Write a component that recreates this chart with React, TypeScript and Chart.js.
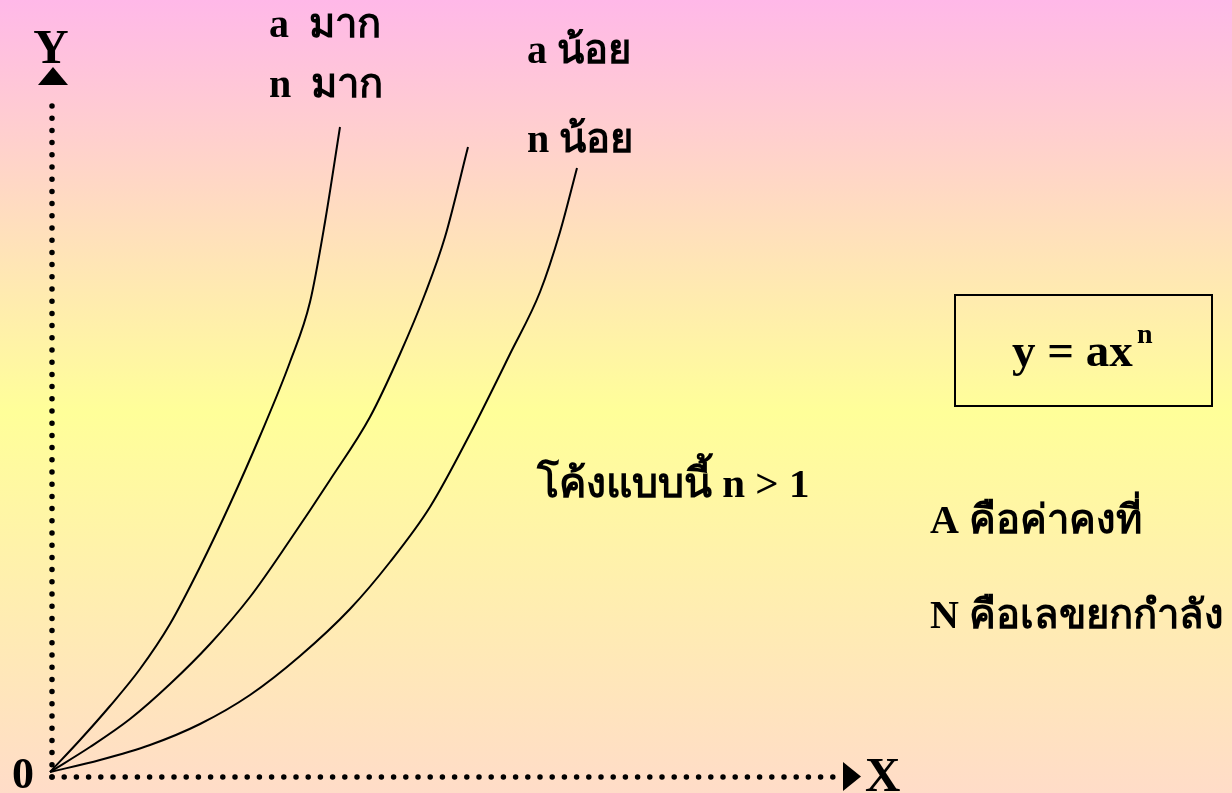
import React, { useEffect, useRef } from "react";
import { Chart, registerables } from "chart.js";

Chart.register(...registerables);

// Curve samples (x to the right of the origin, y above the origin, chart units)
const curveBigX = [0, 30, 60, 90, 120, 150, 180, 210, 240, 260, 275, 290];
const curveBigY = [0, 32, 66, 103, 148, 205, 268, 336, 410, 470, 550, 645];

const curveMidX = [0, 40, 80, 120, 160, 200, 240, 280, 320, 350, 375, 395, 418];
const curveMidY = [0, 25, 53, 88, 128, 175, 232, 292, 355, 418, 478, 535, 625];

const curveSmallX = [0, 50, 100, 150, 200, 250, 300, 340, 380, 420, 460, 490, 510, 527];
const curveSmallY = [0, 12, 27, 48, 77, 116, 163, 210, 265, 338, 418, 480, 540, 604];

// Axis extents
const xAxisX = [2, 785];
const xAxisY = [-5, -5];
const yAxisX = [2, 2];
const yAxisY = [-5, 678];
const upArrow = { x: 3, y: 696 };
const rightArrow = { x: 802, y: -4.5 };

const labels = {
  y: "Y",
  x: "X",
  zero: "0",
  aBig: "a  มาก",
  nBig: "n  มาก",
  aSmall: "a น้อย",
  nSmall: "n น้อย",
  shape: "โค้งแบบนี้ n > 1",
  aDef: "A คือค่าคงที่",
  nDef: "N คือเลขยกกำลัง",
  formula: "y = ax",
  sup: "n",
};

const zip = (xs: number[], ys: number[]) => xs.map((x, i) => ({ x, y: ys[i] }));

function makeTriangle(w: number, h: number, dir: "up" | "right") {
  const c = document.createElement("canvas");
  c.width = dir === "up" ? w : h;
  c.height = dir === "up" ? h : w;
  const g = c.getContext("2d")!;
  g.fillStyle = "#000";
  g.beginPath();
  if (dir === "up") {
    g.moveTo(w / 2, 0);
    g.lineTo(w, h);
    g.lineTo(0, h);
  } else {
    g.moveTo(0, 0);
    g.lineTo(h, w / 2);
    g.lineTo(0, w);
  }
  g.closePath();
  g.fill();
  return c;
}

const FONT = '"Liberation Serif", "Times New Roman", serif';

export default function App() {
  const ref = useRef<HTMLCanvasElement | null>(null);

  useEffect(() => {
    document.body.style.margin = "0";
    const canvas = ref.current!;
    const bgPlugin = {
      id: "bg",
      beforeDraw(chart: any) {
        const { ctx, width, height } = chart;
        const grad = ctx.createLinearGradient(0, 0, 0, height);
        grad.addColorStop(0, "#FFB8E8");
        grad.addColorStop(0.52, "#FFFF99");
        grad.addColorStop(1, "#FFDCC8");
        ctx.save();
        ctx.fillStyle = grad;
        ctx.fillRect(0, 0, width, height);
        ctx.restore();
      },
    };
    const textPlugin = {
      id: "texts",
      afterDraw(chart: any) {
        const ctx = chart.ctx as CanvasRenderingContext2D;
        ctx.save();
        ctx.fillStyle = "#000";
        ctx.textBaseline = "alphabetic";
        const t = (s: string, x: number, y: number, size: number, align: CanvasTextAlign = "left") => {
          ctx.font = `bold ${size}px ${FONT}`;
          ctx.textAlign = align;
          ctx.fillText(s, x, y);
        };
        t(labels.y, 51, 63, 49, "center");
        t(labels.x, 865, 791, 49);
        t(labels.zero, 12, 788, 44);
        t(labels.aBig, 269, 37, 40);
        t(labels.nBig, 269, 97, 40);
        t(labels.aSmall, 527, 63, 40);
        t(labels.nSmall, 527, 152, 40);
        t(labels.shape, 537, 497, 41);
        t(labels.aDef, 930, 533, 40);
        t(labels.nDef, 930, 628, 40);
        t(labels.formula, 1012, 366, 47);
        t(labels.sup, 1137, 343, 28);
        ctx.lineWidth = 2;
        ctx.strokeStyle = "#000";
        ctx.strokeRect(955, 295, 257, 111);
        ctx.restore();
      },
    };

    const curveStyle = {
      showLine: true,
      borderColor: "#000",
      borderWidth: 2,
      pointRadius: 0,
      fill: false,
      cubicInterpolationMode: "monotone" as const,
    };
    const dotStyle = {
      showLine: true,
      borderColor: "#000",
      borderWidth: 5.5,
      borderDash: [0, 12.2],
      borderCapStyle: "round" as const,
      pointRadius: 0,
      fill: false,
    };

    const chart = new Chart(canvas, {
      type: "scatter",
      data: {
        datasets: [
          { ...dotStyle, data: zip(xAxisX, xAxisY) },
          { ...dotStyle, data: zip(yAxisX, yAxisY) },
          { ...curveStyle, data: zip(curveBigX, curveBigY) },
          { ...curveStyle, data: zip(curveMidX, curveMidY) },
          { ...curveStyle, data: zip(curveSmallX, curveSmallY) },
          {
            data: [upArrow],
            pointStyle: makeTriangle(30, 18, "up") as any,
            pointRadius: 10,
          },
          {
            data: [rightArrow],
            pointStyle: makeTriangle(29, 18, "right") as any,
            pointRadius: 10,
          },
        ],
      },
      options: {
        animation: false,
        responsive: false,
        layout: { padding: 0, autoPadding: false },
        events: [],
        scales: {
          x: { type: "linear", min: -50, max: 1182, display: false },
          y: { type: "linear", min: -21, max: 772, display: false },
        },
        plugins: {
          legend: { display: false },
          tooltip: { enabled: false },
        },
      },
      plugins: [bgPlugin, textPlugin],
    });
    return () => chart.destroy();
  }, []);

  return (
    <div style={{ width: 1232, height: 793 }}>
      <canvas ref={ref} width={1232} height={793} style={{ display: "block" }} />
    </div>
  );
}
